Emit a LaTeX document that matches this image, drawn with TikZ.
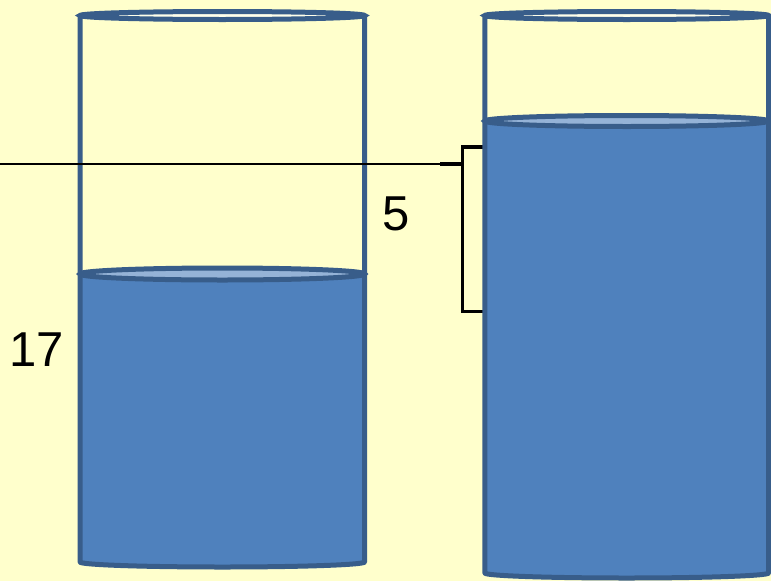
\documentclass[tikz,border=0pt]{standalone}
\usepackage{fontspec}
\setmainfont{Liberation Sans}
\definecolor{bg}{HTML}{FFFFCC}
\definecolor{water}{HTML}{4F81BD}
\definecolor{rim}{HTML}{385D8A}
\definecolor{surf}{HTML}{95B3D7}
\tikzset{
  glass/.style={draw=rim, line width=5pt, line join=round},
  waterbody/.style={fill=water},
  watersurf/.style={draw=rim, fill=surf, line width=5pt},
  rimtop/.style={draw=rim, fill=white!60!bg, line width=5pt},
  thinline/.style={draw=black, line width=1.3pt},
  bracketline/.style={draw=black, line width=3.7pt},
  lab/.style={inner sep=0pt, font=\fontsize{49}{58}\selectfont}
}
\begin{document}
\begin{tikzpicture}[x=1pt,y=-1pt]
\useasboundingbox (0,0) rectangle (771,581);
\fill[bg] (0,0) rectangle (771,581);
% left cylinder
\path[waterbody] (80,274) -- (80,562) arc[start angle=180, end angle=0, x radius=142.3, y radius=5] -- (364.6,274) -- cycle;
\draw[glass] (80,15.5) -- (80,562) arc[start angle=180, end angle=0, x radius=142.3, y radius=5] -- (364.6,15.5);
\draw[watersurf] (222.3,274) ellipse[x radius=142.3, y radius=6];
\draw[rimtop] (222.3,15.5) ellipse[x radius=142.3, y radius=4];
% labels
\node[lab] (n17) at (36.5,349.5) {17};
\node[lab] (n5) at (396,214) {5};
% level line and bracket
\coordinate (ls) at (0,164);
\coordinate (lm) at (440,164);
\coordinate (le) at (462.5,164);
\coordinate (btr) at (485,147);
\coordinate (bt) at (462.5,147);
\coordinate (bb) at (462.5,311.5);
\coordinate (bbr) at (485,311.5);
\draw[thinline] (ls) -- (le);
\draw[bracketline] (lm) -- (le);
\draw[bracketline, line join=miter] (btr) -- (bt) -- (bb) -- (bbr);
% right cylinder
\path[waterbody] (484.8,121) -- (484.8,573) arc[start angle=180, end angle=0, x radius=141.9, y radius=5] -- (768.6,121) -- cycle;
\draw[glass] (484.8,15.5) -- (484.8,573) arc[start angle=180, end angle=0, x radius=141.9, y radius=5] -- (768.6,15.5);
\draw[watersurf] (626.7,121) ellipse[x radius=141.9, y radius=5.5];
\draw[rimtop] (626.7,15.5) ellipse[x radius=141.9, y radius=4];
\end{tikzpicture}
\end{document}
